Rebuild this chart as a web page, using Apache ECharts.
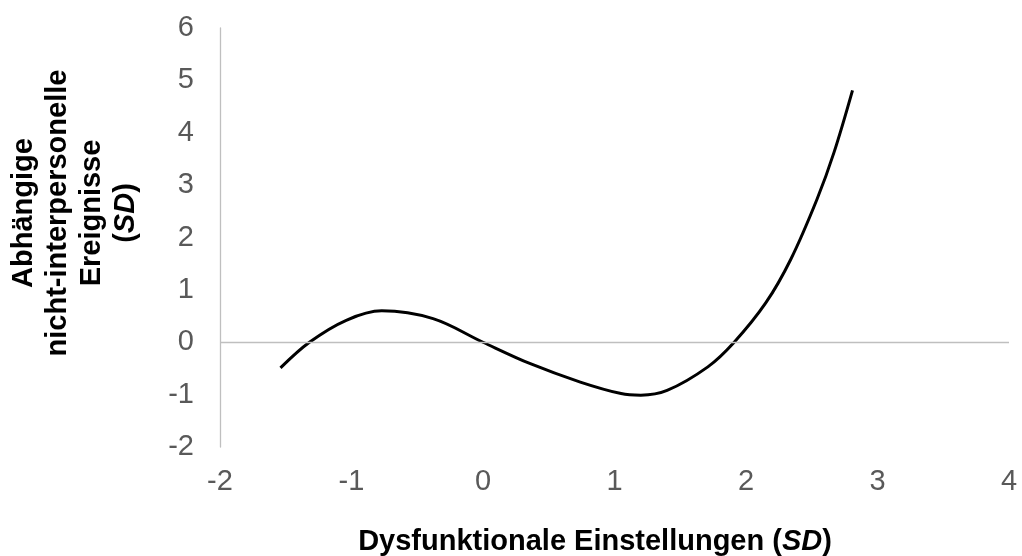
<!DOCTYPE html>
<html>
<head>
<meta charset="utf-8">
<script src="https://cdn.jsdelivr.net/npm/echarts@6/dist/echarts.min.js"></script>
<style>html,body{margin:0;padding:0;background:#fff}#c{width:1022px;height:556px}</style>
</head>
<body>
<div id="c"></div>
<script>
const xValues = [-1.54, -1.32, -1.04, -0.77, -0.38, 0.0, 0.36, 0.74, 1.05, 1.20, 1.40, 1.71, 1.91, 2.15, 2.34, 2.54, 2.67, 2.81];
const yValues = [-0.49, 0.0, 0.42, 0.60, 0.45, 0.0, -0.41, -0.76, -0.98, -1.01, -0.92, -0.47, 0.0, 0.75, 1.58, 2.73, 3.63, 4.81];
const xTitle = 'Dysfunktionale Einstellungen ({i|SD})';
const yTitle = 'Abhängige\nnicht-interpersonelle\nEreignisse\n({i|SD})';

const FONT = '"Liberation Sans", Arial, sans-serif';
const chart = echarts.init(document.getElementById('c'), null, {renderer: 'canvas'});
chart.setOption({
  animation: false,
  backgroundColor: '#ffffff',
  grid: {left: 220, right: 13, top: 28, bottom: 109, containLabel: false},
  xAxis: {
    type: 'value', min: -2, max: 4, interval: 1,
    axisLine: {show: false, onZero: false},
    axisTick: {show: false},
    splitLine: {show: false},
    axisLabel: {color: '#595959', fontSize: 29, fontFamily: FONT, margin: 20}
  },
  yAxis: {
    type: 'value', min: -2, max: 6, interval: 1,
    axisLine: {show: true, onZero: false, lineStyle: {color: '#bfbfbf', width: 1.3}},
    axisTick: {show: false},
    splitLine: {show: false},
    axisLabel: {color: '#595959', fontSize: 29, fontFamily: FONT, margin: 26}
  },
  series: [{
    type: 'line',
    data: xValues.map((x, i) => [x, yValues[i]]),
    smooth: 0.35,
    showSymbol: false,
    lineStyle: {color: '#000000', width: 3},
    markLine: {
      silent: true, symbol: 'none', label: {show: false},
      lineStyle: {color: '#bfbfbf', width: 1.3, type: 'solid'},
      data: [{yAxis: 0}]
    },
    z: 3
  }],
  graphic: [
    {
      type: 'text', x: 595, y: 542,
      style: {
        text: xTitle, textAlign: 'center', textVerticalAlign: 'middle',
        font: 'bold 29px ' + FONT, fill: '#000',
        rich: {i: {fontStyle: 'italic', fontWeight: 'bold', fontSize: 29, fontFamily: FONT}}
      }
    },
    {
      type: 'text', x: 75, y: 213, rotation: Math.PI / 2,
      style: {
        text: yTitle, textAlign: 'center', textVerticalAlign: 'middle',
        font: 'bold 29px ' + FONT, fill: '#000', lineHeight: 34,
        rich: {i: {fontStyle: 'italic', fontWeight: 'bold', fontSize: 29, fontFamily: FONT, lineHeight: 34}}
      }
    }
  ]
});
</script>
</body>
</html>
